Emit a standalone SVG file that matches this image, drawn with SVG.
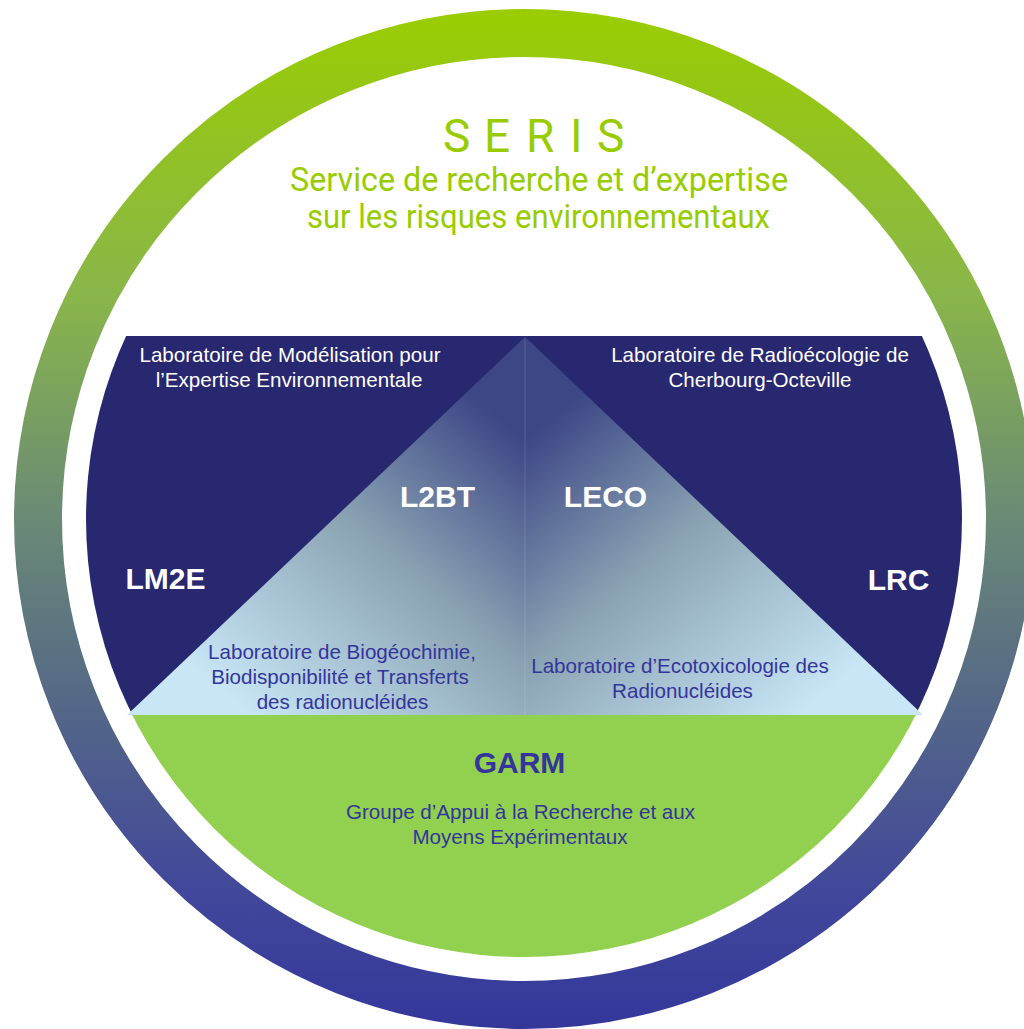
<svg xmlns="http://www.w3.org/2000/svg" width="1024" height="1029" viewBox="0 0 1024 1029">
  <style>
    .title { font-family: Roboto, "Open Sans", "DejaVu Sans", sans-serif; fill: #99cc00; }
    .lab { font-family: "Liberation Sans", Arial, sans-serif; font-size: 20.6px; text-anchor: middle; }
    .white { fill: #ffffff; }
    .blue { fill: #34359b; }
    .code { font-family: "Liberation Sans", Arial, sans-serif; font-size: 30px; font-weight: bold; text-anchor: middle; }
  </style>
  <defs>
    <linearGradient id="ringGrad" gradientUnits="userSpaceOnUse" x1="0" y1="9" x2="0" y2="1029">
      <stop offset="0" stop-color="#9acd00"/>
      <stop offset="0.28" stop-color="#89b64a"/>
      <stop offset="0.5" stop-color="#6a8a76"/>
      <stop offset="0.7" stop-color="#526489"/>
      <stop offset="0.86" stop-color="#42489a"/>
      <stop offset="1" stop-color="#34379a"/>
    </linearGradient>
    <linearGradient id="triLeft" gradientUnits="userSpaceOnUse" x1="500" y1="420" x2="250" y2="715">
      <stop offset="0" stop-color="#3d4786"/>
      <stop offset="0.45" stop-color="#8aa3b3"/>
      <stop offset="1" stop-color="#c8e6f6"/>
    </linearGradient>
    <linearGradient id="triRight" gradientUnits="userSpaceOnUse" x1="550" y1="420" x2="800" y2="715">
      <stop offset="0" stop-color="#3d4786"/>
      <stop offset="0.45" stop-color="#8aa3b3"/>
      <stop offset="1" stop-color="#c8e6f6"/>
    </linearGradient>
    <clipPath id="disk">
      <circle cx="524" cy="519" r="438"/>
    </clipPath>
  </defs>

  <rect x="0" y="0" width="1024" height="1029" fill="#ffffff"/>

  <!-- outer gradient ring -->
  <circle cx="524" cy="519" r="486" fill="none" stroke="url(#ringGrad)" stroke-width="48"/>

  <!-- inner disk: navy band and green base -->
  <g clip-path="url(#disk)">
    <rect x="80" y="336" width="890" height="380" fill="#282870"/>
    <rect x="80" y="715" width="890" height="260" fill="#92d050"/>
  </g>

  <!-- central triangle in two halves -->
  <g id="triangle">
    <polygon points="525,337 127,715 525,715" fill="url(#triLeft)"/>
    <polygon points="525,337 923,715 525,715" fill="url(#triRight)"/>
    <line x1="525" y1="340" x2="525" y2="714" stroke="#ffffff" stroke-opacity="0.12" stroke-width="1.2"/>
  </g>

  <!-- connectors: none -->
  <g id="connectors"/>

  <g id="seris">
    <text class="title" font-size="46" y="152"><tspan x="443">S</tspan><tspan x="484">E</tspan><tspan x="526">R</tspan><tspan x="570">I</tspan><tspan x="597">S</tspan></text>
    <text class="title" font-size="33" x="539" y="191" text-anchor="middle" textLength="498" lengthAdjust="spacingAndGlyphs">Service de recherche et d’expertise</text>
    <text class="title" font-size="33" x="538.5" y="228" text-anchor="middle" textLength="463" lengthAdjust="spacingAndGlyphs">sur les risques environnementaux</text>
  </g>

  <g id="LM2E">
    <text class="lab white" x="290" y="362">Laboratoire de Modélisation pour</text>
    <text class="lab white" x="289" y="387">l’Expertise Environnementale</text>
    <text class="code white" x="165.5" y="589">LM2E</text>
  </g>

  <g id="LRC">
    <text class="lab white" x="760" y="362">Laboratoire de Radioécologie de</text>
    <text class="lab white" x="760" y="387">Cherbourg-Octeville</text>
    <text class="code white" x="898.5" y="590">LRC</text>
  </g>

  <g id="L2BT">
    <text class="code white" x="437.5" y="507">L2BT</text>
    <text class="lab blue" x="342" y="659">Laboratoire de Biogéochimie,</text>
    <text class="lab blue" x="340" y="684">Biodisponibilité et Transferts</text>
    <text class="lab blue" x="342.5" y="709">des radionucléides</text>
  </g>

  <g id="LECO">
    <text class="code white" x="605.5" y="507">LECO</text>
    <text class="lab blue" x="680" y="673">Laboratoire d’Ecotoxicologie des</text>
    <text class="lab blue" x="682.5" y="698">Radionucléides</text>
  </g>

  <g id="GARM">
    <text class="code blue" x="519.5" y="773">GARM</text>
    <text class="lab blue" x="520.5" y="819">Groupe d’Appui à la Recherche et aux</text>
    <text class="lab blue" x="520" y="844">Moyens Expérimentaux</text>
  </g>
</svg>
